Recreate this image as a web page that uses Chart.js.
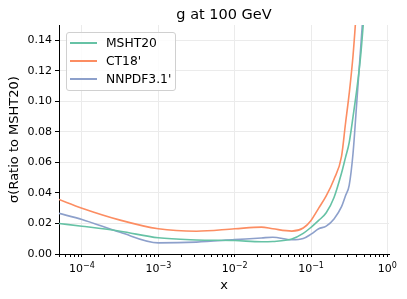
<!DOCTYPE html>
<html>
<head>
<meta charset="utf-8">
<script src="https://cdn.jsdelivr.net/npm/chart.js@4/dist/chart.umd.min.js"></script>
<style>
  html, body { margin: 0; padding: 0; background: #fff; }
  #wrap { position: relative; width: 407px; height: 299px; }
  #legend {
    position: absolute; left: 66px; top: 32px; width: 108px; height: 57px;
    border: 1px solid #d0d0d0; border-radius: 3px; background: rgba(255,255,255,0.85);
    font-family: "DejaVu Sans", sans-serif; font-size: 12.3px; color: #000;
  }
  .row { position: absolute; left: 3px; height: 16px; line-height: 16px; }
  .row span.sw { position: absolute; left: 0; top: 7px; width: 27px; height: 2px; }
  .row span.lb { position: absolute; left: 36px; top: 0; white-space: nowrap; }
</style>
</head>
<body>
<div id="wrap">
  <canvas id="c" width="407" height="299"></canvas>
  <div id="legend"></div>
</div>
<script>
// x positions (momentum fraction)
const xs = [5e-5, 1e-4, 3.16e-4, 1e-3, 3.16e-3, 1e-2, 2.24e-2, 3.16e-2, 5.6e-2, 7.9e-2, 0.1, 0.126, 0.158, 0.2, 0.251, 0.282, 0.316, 0.355, 0.398, 0.447, 0.5];
const seriesNames = ['MSHT20', "CT18'", "NNPDF3.1'"];
const mshtVals  = [0.020, 0.0182, 0.0149, 0.0106, 0.0092, 0.0088, 0.0080, 0.0082, 0.0098, 0.0135, 0.0175, 0.022, 0.027, 0.037, 0.053, 0.063, 0.073, 0.090, 0.108, 0.130, 0.160];
const ct18Vals  = [0.0357, 0.030, 0.0222, 0.0165, 0.0149, 0.0165, 0.0176, 0.0165, 0.0150, 0.0170, 0.022, 0.030, 0.038, 0.049, 0.064, 0.085, 0.105, 0.130, 0.165, 0.210, 0.270];
const nnpdfVals = [0.0266, 0.0226, 0.0142, 0.0073, 0.0078, 0.0094, 0.0105, 0.0110, 0.0093, 0.0101, 0.013, 0.0165, 0.0183, 0.023, 0.031, 0.038, 0.045, 0.066, 0.100, 0.135, 0.170];
const colors = ['#66c2a5', '#fc8d62', '#8da0cb'];
const yTicks = [0, 0.02, 0.04, 0.06, 0.08, 0.10, 0.12, 0.14];
const xMajor = [1e-4, 1e-3, 1e-2, 1e-1, 1];
const xMajorExp = ['\u22124', '\u22123', '\u22122', '\u22121', '0'];

const allVals = [mshtVals, ct18Vals, nnpdfVals];
const datasets = seriesNames.map((name, i) => ({
  label: name,
  data: xs.map((x, j) => ({ x: x, y: allVals[i][j] })),
  borderColor: colors[i],
  backgroundColor: colors[i],
  borderWidth: 1.6,
  pointRadius: 0,
  cubicInterpolationMode: 'monotone'
}));

// legend as html
const legend = document.getElementById('legend');
seriesNames.forEach((name, i) => {
  const row = document.createElement('div');
  row.className = 'row';
  row.style.top = (2 + i * 17.8) + 'px';
  row.innerHTML = '<span class="sw" style="background:' + colors[i] + '"></span><span class="lb">' + name + '</span>';
  legend.appendChild(row);
});

const font = { family: 'DejaVu Sans', size: 11 };
const isMajor = v => xMajor.some(m => Math.abs(Math.log10(v) - Math.log10(m)) < 1e-6);

// title and 10^n labels drawn on the canvas
const extras = {
  id: 'extras',
  afterDraw(chart) {
    const ctx = chart.ctx;
    const area = chart.chartArea;
    const xs_ = chart.scales.x;
    ctx.save();
    ctx.fillStyle = '#000';
    ctx.textBaseline = 'alphabetic';
    ctx.textAlign = 'center';
    ctx.font = '14.5px "DejaVu Sans"';
    ctx.fillText('g at 100 GeV', (area.left + area.right) / 2, 19);
    xMajor.forEach((v, k) => {
      const px = xs_.getPixelForValue(v);
      ctx.font = '11px "DejaVu Sans"';
      const w1 = ctx.measureText('10').width;
      ctx.font = '8px "DejaVu Sans"';
      const w2 = ctx.measureText(xMajorExp[k]).width;
      const x0 = px - (w1 + w2) / 2;
      ctx.textAlign = 'left';
      ctx.font = '11px "DejaVu Sans"';
      ctx.fillText('10', x0, 272);
      ctx.font = '8px "DejaVu Sans"';
      ctx.fillText(xMajorExp[k], x0 + w1, 267.5);
    });
    ctx.restore();
  }
};

new Chart(document.getElementById('c'), {
  type: 'line',
  data: { datasets: datasets },
  plugins: [extras],
  options: {
    responsive: false,
    animation: false,
    layout: { padding: { left: 0, right: 18, top: 25, bottom: 0 } },
    plugins: {
      legend: { display: false },
      tooltip: { enabled: false },
      title: { display: false }
    },
    scales: {
      x: {
        type: 'logarithmic',
        min: 5e-5, max: 1.05,
        afterFit: s => { s.height = 45; },
        afterBuildTicks: s => {
          const t = [];
          for (let e = -5; e <= 0; e++) {
            for (let m = 1; m <= 9; m++) {
              const v = m * Math.pow(10, e);
              if (v >= 5e-5 && v <= 1.05) t.push({ value: v });
            }
          }
          s.ticks = t;
        },
        ticks: { autoSkip: false, maxRotation: 0, color: '#000', font: font, callback: () => '' },
        grid: {
          color: c => (c.tick && isMajor(c.tick.value)) ? '#ebebeb' : 'rgba(0,0,0,0)',
          tickColor: '#000',
          tickLength: 3
        },
        border: { color: '#000', width: 1 },
        title: { display: true, text: 'x', color: '#000', font: { family: 'DejaVu Sans', size: 13 }, padding: { top: 0, bottom: 6 } }
      },
      y: {
        min: 0, max: 0.15,
        afterFit: s => { s.width = 59; },
        afterBuildTicks: s => { s.ticks = yTicks.map(v => ({ value: v })); },
        ticks: { color: '#000', font: font, padding: 3, callback: v => v.toFixed(2) },
        grid: { color: '#ebebeb', tickColor: '#000', tickLength: 4 },
        border: { color: '#000', width: 1 },
        title: { display: true, text: 'σ(Ratio to MSHT20)', color: '#000', font: { family: 'DejaVu Sans', size: 13 }, padding: { top: 7, bottom: 0 } }
      }
    }
  }
});
</script>
</body>
</html>
